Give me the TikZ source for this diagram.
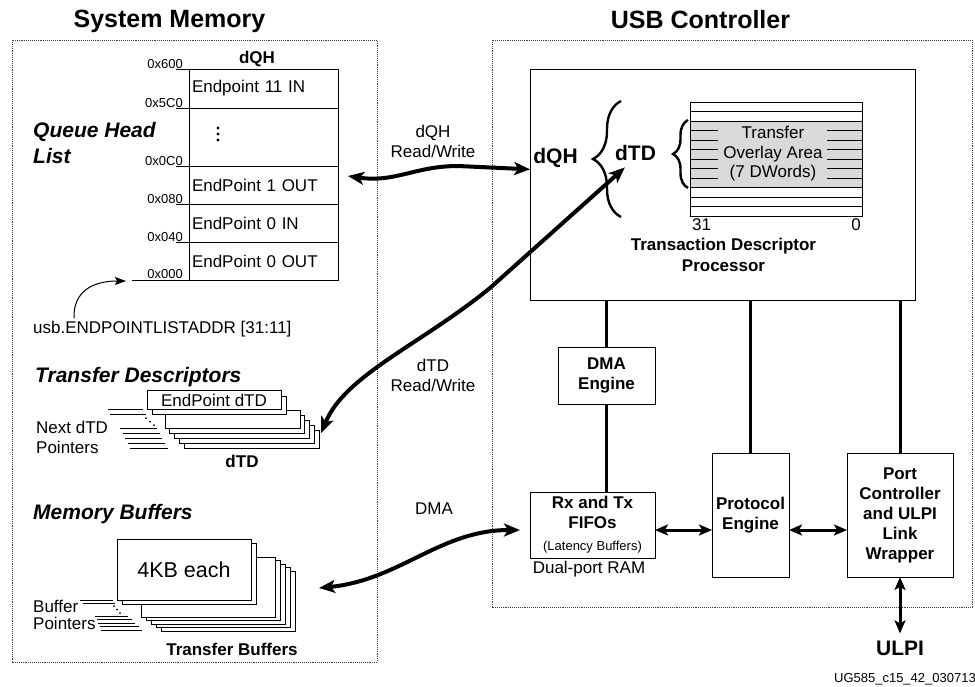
\documentclass[tikz,border=0pt]{standalone}
\usepackage{fontspec}
\setmainfont{Liberation Sans}
\usetikzlibrary{arrows.meta, positioning, calc, decorations.pathreplacing}

\begin{document}
\begin{tikzpicture}[
    x=1pt, y=-1pt,
    title/.style={font=\fontsize{25}{28}\selectfont\bfseries, anchor=base, inner sep=0pt},
    sect/.style={font=\fontsize{21}{26}\selectfont\bfseries\itshape, inner sep=0pt, align=left},
    lbl/.style={font=\fontsize{17}{20}\selectfont, inner sep=0pt, align=center},
    blbl/.style={font=\fontsize{17}{20}\selectfont\bfseries, inner sep=0pt, align=center},
    big/.style={font=\fontsize{21}{24}\selectfont\bfseries, inner sep=0pt},
    addr/.style={font=\fontsize{13}{15}\selectfont, anchor=base east, inner sep=0pt},
    region/.style={draw=black!75, densely dotted, line width=0.9pt},
    qhrow/.style={draw, line width=0.9pt, outer sep=0pt, minimum width=149, minimum height=38,
      text width=143, inner xsep=3, inner ysep=0, align=left, font=\fontsize{17}{20}\selectfont},
    sheet/.style={draw, line width=0.9pt, fill=white},
    blk/.style={draw, line width=1pt, outer sep=0pt, fill=white, inner sep=0pt, align=center,
      font=\fontsize{17}{20}\selectfont\bfseries},
    wire/.style={line width=3pt},
    thin/.style={line width=0.9pt},
    bigarr/.style={line width=4pt, {Stealth[length=16pt,width=13pt,inset=4pt]}-{Stealth[length=16pt,width=13pt,inset=4pt]}},
    dblarr/.style={line width=3pt, {Stealth[length=13pt,width=11pt,inset=3pt]}-{Stealth[length=13pt,width=11pt,inset=3pt]}},
    ptrarr/.style={line width=1pt, -{Stealth[length=11pt,width=8pt,inset=2pt]}},
    brc/.style={line width=2.4pt, decorate}
  ]
    \useasboundingbox (0,0) rectangle (975,686);

    % Regions
    \node[title] (memtitle) at (169.5,27) {System Memory};
    \node[title] (usbtitle) at (700.5,28) {USB Controller};
    \draw[region] (12,40) rectangle (377,662);
    \draw[region] (492,40) rectangle (972,607);

    % Queue head list
    \node[sect, anchor=north west] (qhlist) at (33,122) {Queue Head\\List};
    \node[blbl, anchor=base] (qhtitle) at (257,63) {dQH};
    \node[qhrow, minimum height=39, anchor=north west] (ep11) at (189,69) {Endpoint 11 IN};
    \node[qhrow, minimum height=58, anchor=north] (epdots) at (ep11.south) {};
    \node[qhrow, anchor=north] (ep1out) at (epdots.south) {EndPoint 1 OUT};
    \node[qhrow, anchor=north] (ep0in) at (ep1out.south) {EndPoint 0 IN};
    \node[qhrow, anchor=north] (ep0out) at (ep0in.south) {EndPoint 0 OUT};
    \foreach \d in {128,134,140}
      \fill (218,\d) circle (1.7);

    \foreach \y/\a [count=\i] in {69/0x600, 108/0x5C0, 166/0x0C0, 204/0x080, 242/0x040} {
      \node[addr] (adr\i) at (183,\y-1) {\a};
      \draw[thin] (176,\y) -- (189,\y);
    }
    \node[addr] (adr0) at (183,278) {0x000};
    \coordinate (qhbase) at (132,280);
    \draw[thin] (qhbase) -- (ep0out.south west);

    \node[lbl, anchor=base west] (listaddr) at (33,333) {usb.ENDPOINTLISTADDR [31:11]};
    \draw[ptrarr] ($(listaddr.north west)+(41,-2)$) .. controls (73,292) and (92,281) .. ($(qhbase)+(-6,1)$);

    % Transfer descriptors
    \node[sect, anchor=base west] (tdsect) at (35,382) {Transfer Descriptors};
    \foreach \k in {4,...,0}
      \node[sheet, minimum width=135, minimum height=18, outer sep=0pt] (td\k) at (232.5+4.8*\k,419+5*\k) {};
    \node[sheet, minimum width=134, minimum height=18] (tdshadow) at (219,405) {};
    \node[sheet, minimum width=134, minimum height=18, font=\fontsize{17}{20}\selectfont] (tdfront) at (214,400) {EndPoint dTD};
    \draw[thin] (108,409) -- (143,409);
    \draw[thin] (110,414.5) -- (146,414.5);
    \foreach \d in {0,1,2}
      \fill (146+4*\d,418+3.5*\d) circle (1);
    \foreach \k in {0,...,4}
      \draw[thin] (120+2.5*\k,428+5*\k) -- (157+2.7*\k,428+5*\k);
    \node[lbl, anchor=north west, align=left] (tdptr) at (36,421) {Next dTD\\Pointers};
    \node[blbl, anchor=base] (tdname) at (242,467) {dTD};

    % Memory buffers
    \node[sect, anchor=base west] (bufsect) at (33,519) {Memory Buffers};
    \foreach \k in {4,...,0}
      \node[sheet, minimum width=134, minimum height=60, outer sep=0pt] (bf\k) at (208+5*\k,587+3.5*\k) {};
    \node[sheet, minimum width=134, minimum height=61] (bfshadow) at (189,573.5) {};
    \node[sheet, minimum width=134, minimum height=61, font=\fontsize{21.5}{24}\selectfont] (bffront) at (184,569.5) {4KB each};
    \draw[thin] (80,600) -- (113,600);
    \draw[thin] (83,603.5) -- (115,603.5);
    \foreach \d in {0,1,2}
      \fill (114+3*\d,606+3.5*\d) circle (1);
    \foreach \k in {0,...,4}
      \draw[thin] (95+1.5*\k,616+3.5*\k) -- (128+3.5*\k,616+3.5*\k);
    \node[lbl, anchor=north west, align=left, font=\fontsize{17}{17}\selectfont] (bfptr) at (33,600) {Buffer\\Pointers};
    \node[blbl, anchor=base] (bfname) at (232,655) {Transfer Buffers};

    % Transaction descriptor processor
    \node[draw, line width=1pt, outer sep=0pt, minimum width=385, minimum height=231, anchor=north west] (tdp) at (530,69) {};
    \node[big, anchor=base] (dqhin) at (555.5,163) {dQH};
    \node[big, anchor=base] (dtdin) at (635.5,160) {dTD};
    \draw[brc, decoration={brace, amplitude=28}] (621,217) -- (621,101);
    \node[draw, line width=0.9pt, outer sep=0pt, minimum width=172, minimum height=114, anchor=north west] (ovl) at (690,102) {};
    \fill[black!15] (690,121) rectangle (862,187.5);
    \foreach \k in {1,2,9,10,11}
      \draw[thin] (690,102+9.5*\k) -- (862,102+9.5*\k);
    \foreach \k in {3,...,8} {
      \draw[thin] (690,102+9.5*\k) -- (718,102+9.5*\k);
      \draw[thin] (827,102+9.5*\k) -- (862,102+9.5*\k);
    }
    \draw[thin] (ovl.north west) rectangle (ovl.south east);
    \draw[brc, decoration={brace, amplitude=15}] (688,188) -- (688,120);
    \node[lbl, font=\fontsize{17}{19.5}\selectfont, anchor=north] (ovltxt) at (773,126) {Transfer\\Overlay Area\\(7 DWords)};
    \node[lbl, anchor=base west] (bit31) at (692,230) {31};
    \node[lbl, anchor=base east] (bit0) at (861,230) {0};
    \node[blbl, font=\fontsize{17}{21}\selectfont\bfseries, anchor=north] (tdpname) at (723.5,238) {Transaction Descriptor\\Processor};

    % Engines
    \node[blk, minimum width=97, minimum height=57] (dma) at (606.5,375.5) {DMA\\Engine};
    \node[blk, minimum width=125, minimum height=66] (fifo) at (592.5,525) {Rx and Tx\\FIFOs\\[2pt]{\fontsize{13}{16}\selectfont\mdseries (Latency Buffers)}};
    \node[lbl, anchor=base] (dpram) at (589,573) {Dual-port RAM};
    \node[blk, minimum width=77, minimum height=124] (proto) at (750.5,515) {Protocol\\Engine};
    \node[blk, minimum width=106, minimum height=124] (port) at (900,515) {Port\\Controller\\and ULPI\\Link\\Wrapper};
    \node[big, anchor=base] (ulpi) at (900,655) {ULPI};
    \node[font=\fontsize{13}{15}\selectfont, anchor=base east, inner sep=0pt] (fignum) at (976,682) {UG585\_c15\_42\_030713};

    \draw[wire] (tdp.south -| dma.north) -- (dma.north);
    \draw[wire] (dma.south) -- (dma.south |- fifo.north);
    \draw[wire] (tdp.south -| proto.north) -- (proto.north);
    \draw[wire] (tdp.south -| port.north) -- (port.north);
    \draw[dblarr] ([yshift=-5]fifo.east) -- ([yshift=-5]fifo.east -| proto.west);
    \draw[dblarr] ([yshift=-15]proto.east) -- ([yshift=-15]port.west);
    \draw[dblarr, shorten >=7pt] (port.south) -- (ulpi.north);

    % Read/write paths
    \node[lbl, anchor=north] (qhrw) at (433,125) {dQH\\Read/Write};
    \node[lbl, anchor=north] (tdrw) at (433,359) {dTD\\Read/Write};
    \node[lbl, anchor=base] (dmarw) at (434,514) {DMA};
    \draw[bigarr] ($(ep1out.east)+(10,-9)$) .. controls (395,183) and (415,166) .. (458,166) -- ($(dqhin.south west)+(-3,2)$);
    \draw[bigarr] ($(td4.east)+(2,-6)$) .. controls (345,375) and (420,345) .. (490,288) -- ($(dtdin.south west)+(10,7)$);
    \draw[bigarr] ($(fifo.west)+(-10,5)$) .. controls (440,530) and (400,580) .. ($(bf4.east)+(24,-13)$);
  \end{tikzpicture}
\end{document}
